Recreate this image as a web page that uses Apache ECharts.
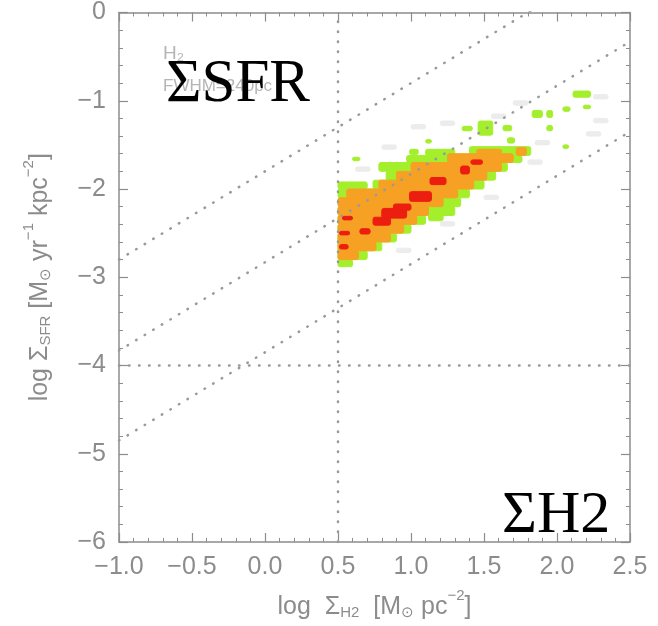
<!DOCTYPE html>
<html>
<head>
<meta charset="utf-8">
<script src="https://cdn.jsdelivr.net/npm/echarts@6/dist/echarts.min.js"></script>
<style>
  html, body { margin: 0; padding: 0; background: #fff; }
  #chart { width: 658px; height: 626px; }
</style>
</head>
<body>
<div id="chart"></div>
<script>
// axis ranges and ticks
let xRange = [-1.0, 2.5];
let yRange = [-6, 0];
let xStep = 0.5;
let yStep = 1;

// guide lines: cut in H2 density, floor in SFR density, constant depletion offsets (slope 1)
let h2Cut = 0.5;
let sfrFloor = -4;
let depletionOffsets = [-1.8, -2.83, -3.85];

// density cells, each [x0, x1, y0, y1] in log units
let greyCells = [
    [0.62, 0.72, -1.80, -1.75], [0.80, 0.90, -1.55, -1.50], [1.00, 1.10, -1.32, -1.27],
    [1.20, 1.30, -1.28, -1.23], [1.55, 1.65, -1.20, -1.15], [1.70, 1.80, -1.05, -1.00],
    [2.25, 2.35, -0.98, -0.93], [2.20, 2.30, -1.40, -1.35], [1.85, 1.95, -1.50, -1.45],
    [1.80, 1.90, -1.72, -1.67], [1.20, 1.30, -2.42, -2.37], [0.90, 1.00, -2.72, -2.67],
    [1.50, 1.60, -2.12, -2.07], [2.25, 2.35, -1.25, -1.20]
];
let greenCells = [
    [0.50, 0.60, -2.88, -2.80], [0.50, 0.70, -2.80, -2.70], [0.50, 0.80, -2.70, -2.60],
    [0.50, 0.90, -2.60, -2.50], [0.50, 1.00, -2.50, -2.40], [0.50, 1.10, -2.40, -2.30],
    [1.12, 1.22, -2.36, -2.28], [0.50, 1.30, -2.30, -2.20], [0.50, 1.34, -2.20, -2.10],
    [0.50, 1.40, -2.10, -2.00], [0.50, 0.70, -2.00, -1.92], [0.74, 1.50, -2.00, -1.90],
    [0.83, 1.58, -1.90, -1.80], [0.78, 1.66, -1.80, -1.70], [0.97, 1.76, -1.70, -1.62],
    [1.10, 1.30, -1.62, -1.55], [1.40, 1.82, -1.62, -1.52], [1.10, 1.14, -1.48, -1.44],
    [0.99, 1.05, -1.61, -1.55], [0.60, 0.65, -1.68, -1.64], [1.35, 1.42, -1.34, -1.29],
    [1.46, 1.56, -1.39, -1.23], [1.63, 1.69, -1.34, -1.28], [1.66, 1.71, -1.48, -1.42],
    [1.83, 1.90, -1.19, -1.11], [1.93, 1.97, -1.19, -1.11], [1.93, 1.97, -1.34, -1.28],
    [2.04, 2.09, -1.12, -1.07], [2.04, 2.08, -1.54, -1.50], [2.11, 2.23, -0.96, -0.89],
    [2.18, 2.23, -1.09, -1.05]
];
let orangeCells = [
    [0.50, 0.64, -2.80, -2.70], [0.50, 0.76, -2.70, -2.60], [0.50, 0.86, -2.60, -2.50],
    [0.50, 0.95, -2.50, -2.40], [0.50, 1.04, -2.40, -2.30], [0.50, 1.12, -2.30, -2.20],
    [0.50, 1.22, -2.20, -2.10], [0.56, 1.32, -2.10, -2.00], [0.78, 1.43, -2.00, -1.90],
    [0.90, 1.52, -1.90, -1.80], [1.00, 1.62, -1.80, -1.70], [1.25, 1.70, -1.70, -1.60],
    [1.45, 1.62, -1.60, -1.55], [1.72, 1.79, -1.62, -1.53]
];
let redCells = [
    [0.51, 0.58, -2.52, -2.48], [0.51, 0.57, -2.68, -2.63], [0.53, 0.60, -2.35, -2.31],
    [0.65, 0.72, -2.51, -2.45], [0.74, 0.86, -2.41, -2.32], [0.80, 0.97, -2.33, -2.22],
    [0.88, 1.00, -2.24, -2.17], [0.99, 1.14, -2.14, -2.03], [1.13, 1.24, -1.95, -1.87],
    [1.34, 1.40, -1.83, -1.74], [1.41, 1.49, -1.72, -1.67]
];

let myChart = echarts.init(document.getElementById('chart'));

let frameColor = '#8c8c8c';
let labelColor = '#8c8c8c';

function cellLayer(name, cells, color, z) {
    return {
        name: name,
        type: 'custom',
        z: z,
        silent: true,
        data: cells,
        encode: { x: [0, 1], y: [2, 3] },
        renderItem: function (params, api) {
            let p0 = api.coord([api.value(0), api.value(3)]);
            let p1 = api.coord([api.value(1), api.value(2)]);
            return {
                type: 'rect',
                shape: { x: p0[0], y: p0[1], width: p1[0] - p0[0], height: p1[1] - p0[1], r: 2 },
                style: { fill: color, stroke: color, lineWidth: 1 }
            };
        }
    };
}

function minus(v, digits) {
    let s = Math.abs(v).toFixed(digits);
    return v < 0 ? '\u2212' + s : s;
}

let dotted = { color: '#999999', width: 2.5, type: [0.5, 9.5], cap: 'round' };

let guideSeries = depletionOffsets.map((c) => ({
    type: 'line',
    data: [[xRange[0], xRange[0] + c], [xRange[1], xRange[1] + c]],
    symbol: 'none',
    silent: true,
    z: 5,
    clip: true,
    lineStyle: dotted
}));
guideSeries.push({
    type: 'line',
    data: [[h2Cut, yRange[0]], [h2Cut, yRange[1]]],
    symbol: 'none', silent: true, z: 5, lineStyle: dotted
});
guideSeries.push({
    type: 'line',
    data: [[xRange[0], sfrFloor], [xRange[1], sfrFloor]],
    symbol: 'none', silent: true, z: 5, lineStyle: dotted
});

let baseAxis = {
    type: 'value',
    splitLine: { show: false },
    axisLine: { onZero: false, lineStyle: { color: frameColor, width: 1.5 } },
    axisTick: { inside: true, length: 9, lineStyle: { color: frameColor, width: 1.2 } },
    minorTick: { show: true, splitNumber: 5, length: 4, lineStyle: { color: frameColor, width: 1 } },
    minorSplitLine: { show: false }
};

let richName = {
    n: { fontSize: 25, color: labelColor, fontFamily: 'Liberation Sans', verticalAlign: 'bottom', lineHeight: 32 },
    sub: { fontSize: 15, color: labelColor, fontFamily: 'Liberation Sans', verticalAlign: 'bottom', lineHeight: 25 },
    sup: { fontSize: 15, color: labelColor, fontFamily: 'Liberation Sans', verticalAlign: 'top', lineHeight: 32 }
};

let option = {
    animation: false,
    backgroundColor: '#ffffff',
    grid: { left: 119, right: 28, top: 9, bottom: 84 },
    xAxis: [
        Object.assign({}, baseAxis, {
            position: 'bottom',
            min: xRange[0], max: xRange[1], interval: xStep,
            axisLabel: {
                margin: 13, fontSize: 25, color: labelColor, fontFamily: 'Liberation Sans',
                formatter: (v) => minus(v, 1)
            },
            name: '{n|log  Σ}{sub|H2}{n|  [M}{sub|⊙}{n| pc}{sup|−2}{n|]}',
            nameLocation: 'middle',
            nameGap: 46,
            nameTextStyle: { rich: richName }
        }),
        Object.assign({}, baseAxis, {
            position: 'top',
            min: xRange[0], max: xRange[1], interval: xStep,
            axisLabel: { show: false }
        })
    ],
    yAxis: [
        Object.assign({}, baseAxis, {
            position: 'left',
            min: yRange[0], max: yRange[1], interval: yStep,
            axisLabel: {
                margin: 13, fontSize: 25, color: labelColor, fontFamily: 'Liberation Sans',
                formatter: (v) => minus(v, 0)
            },
            name: '{n|log Σ}{sub|SFR}{n| [M}{sub|⊙}{n| yr}{sup|−1}{n| kpc}{sup|−2}{n|]}',
            nameLocation: 'middle',
            nameRotate: 90,
            nameGap: 66,
            nameTextStyle: { rich: richName }
        }),
        Object.assign({}, baseAxis, {
            position: 'right',
            min: yRange[0], max: yRange[1], interval: yStep,
            axisLabel: { show: false }
        })
    ],
    series: [
        cellLayer('grey', greyCells, '#ececec', 2),
        cellLayer('green', greenCells, '#a4ef2c', 3),
        cellLayer('orange', orangeCells, '#f6a124', 4),
        cellLayer('red', redCells, '#ec1e10', 4.5),
        ...guideSeries
    ],
    graphic: [
        {
            type: 'text', left: 163, top: 44, z: 50,
            style: { text: 'H\u2082', fontSize: 19, fontFamily: 'Liberation Sans', fill: '#b5b5b5' }
        },
        {
            type: 'text', left: 163, top: 78, z: 50,
            style: { text: 'FWHM=240pc', fontSize: 17, fontFamily: 'Liberation Sans', fill: '#b5b5b5' }
        },
        {
            type: 'text', left: 166, top: 54, z: 60,
            style: { text: 'ΣSFR', fontSize: 61, fontFamily: 'Liberation Serif', fill: '#000000' }
        },
        {
            type: 'text', left: 502, top: 486, z: 60,
            style: { text: 'ΣH2', fontSize: 60, fontFamily: 'Liberation Serif', fill: '#000000' }
        }
    ]
};

myChart.setOption(option);
</script>
</body>
</html>
